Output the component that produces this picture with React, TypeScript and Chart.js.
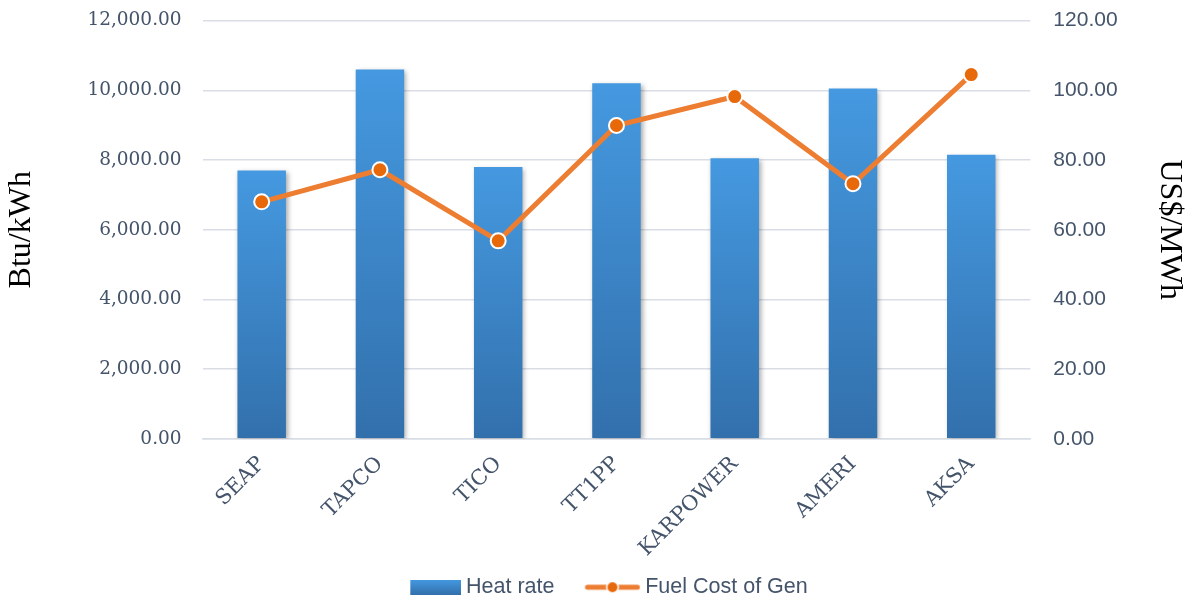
import React, { useEffect, useRef } from 'react';
import { Chart, registerables } from 'chart.js';

Chart.register(...registerables);

const categories = ['SEAP', 'TAPCO', 'TICO', 'TT1PP', 'KARPOWER', 'AMERI', 'AKSA'];
const heatRate = [7700, 10600, 7800, 10200, 8050, 10050, 8150];
const fuelCost = [68.0, 77.2, 56.8, 89.9, 98.2, 73.2, 104.5];
const seriesNames = ['Heat rate', 'Fuel Cost of Gen'];
const leftAxisTitle = 'Btu/kWh';
const rightAxisTitle = 'US$/MWh';

const BAR_TOP = '#4599E0';
const BAR_BOTTOM = '#3270AC';
const LINE = '#ED7D31';
const POINT = '#E8690A';
const TICK = '#44546A';
const GRID = '#D9DEE6';

const SW_W = 70; // legend box width
const SW_I = 82; // legend image width

const fmt = (v: number) =>
  Number(v).toLocaleString('en-US', { minimumFractionDigits: 2, maximumFractionDigits: 2 });

function barSwatch(): HTMLCanvasElement {
  const c = document.createElement('canvas');
  c.width = SW_I;
  c.height = 15;
  const x = c.getContext('2d')!;
  const g = x.createLinearGradient(0, 0, 0, 15);
  g.addColorStop(0, BAR_TOP);
  g.addColorStop(1, BAR_BOTTOM);
  x.fillStyle = g;
  x.fillRect(SW_I - 51, 0, 51, 15);
  return c;
}

function lineSwatch(): HTMLCanvasElement {
  const c = document.createElement('canvas');
  c.width = SW_I;
  c.height = 18;
  const x = c.getContext('2d')!;
  const l = SW_I - 56;
  x.strokeStyle = LINE;
  x.lineWidth = 5;
  x.lineCap = 'round';
  x.beginPath();
  x.moveTo(l + 3, 9);
  x.lineTo(SW_I - 3, 9);
  x.stroke();
  const cx = l + 28;
  x.beginPath();
  x.arc(cx, 9, 6.5, 0, Math.PI * 2);
  x.fillStyle = '#ffffff';
  x.fill();
  x.beginPath();
  x.arc(cx, 9, 5, 0, Math.PI * 2);
  x.fillStyle = POINT;
  x.fill();
  return c;
}

const shadowPlugin = {
  id: 'barShadow',
  beforeDatasetDraw(chart: any, args: any) {
    if (args.index === 0) {
      const ctx = chart.ctx;
      ctx.save();
      ctx.shadowColor = 'rgba(0,0,0,0.35)';
      ctx.shadowBlur = 5;
      ctx.shadowOffsetX = 2;
      ctx.shadowOffsetY = 2;
    }
  },
  afterDatasetDraw(chart: any, args: any) {
    if (args.index === 0) chart.ctx.restore();
  },
};

export default function App() {
  const ref = useRef<HTMLCanvasElement | null>(null);

  useEffect(() => {
    document.body.style.margin = '0';
    const canvas = ref.current!;
    const swatches = [barSwatch(), lineSwatch()];
    const chart = new Chart(canvas, {
      type: 'bar',
      data: {
        labels: categories,
        datasets: [
          {
            type: 'bar',
            label: seriesNames[0],
            data: heatRate,
            yAxisID: 'y',
            order: 2,
            barPercentage: 0.41,
            categoryPercentage: 1,
            backgroundColor: (ctx: any) => {
              const chart = ctx.chart;
              const y = chart.scales?.y;
              if (!chart.chartArea || !y || ctx.raw == null) return BAR_TOP;
              const top = y.getPixelForValue(ctx.raw);
              const bottom = y.getPixelForValue(0);
              const g = chart.ctx.createLinearGradient(0, top, 0, bottom);
              g.addColorStop(0, BAR_TOP);
              g.addColorStop(1, BAR_BOTTOM);
              return g;
            },
            borderWidth: 0,
          },
          {
            type: 'line',
            label: seriesNames[1],
            data: fuelCost,
            yAxisID: 'y1',
            order: 1,
            borderColor: LINE,
            borderWidth: 5,
            backgroundColor: POINT,
            pointBackgroundColor: POINT,
            pointBorderColor: '#ffffff',
            pointBorderWidth: 2,
            pointRadius: 7.5,
            tension: 0,
          },
        ],
      },
      options: {
        animation: false,
        responsive: true,
        maintainAspectRatio: false,
        layout: { padding: { top: 0, left: 0, right: 0, bottom: -10 } },
        plugins: {
          tooltip: { enabled: false },
          legend: {
            position: 'bottom',
            labels: {
              usePointStyle: true,
              pointStyleWidth: SW_W,
              padding: 10,
              color: TICK,
              font: { family: 'Liberation Sans', size: 21.5 },
              generateLabels: () =>
                seriesNames.map((name, i) => ({
                  text: name,
                  pointStyle: swatches[i] as any,
                  datasetIndex: i,
                  fillStyle: 'transparent',
                  strokeStyle: 'transparent',
                  lineWidth: 0,
                  hidden: false,
                  fontColor: TICK,
                })),
            },
          },
        },
        scales: {
          x: {
            grid: { display: false },
            border: { display: true, color: GRID, width: 1.5 },
            ticks: {
              color: TICK,
              minRotation: 45,
              maxRotation: 45,
              padding: 5,
              font: { family: 'DejaVu Serif', size: 21 },
            },
          },
          y: {
            position: 'left',
            min: 0,
            max: 12000,
            grid: {
              color: GRID,
              lineWidth: 1.5,
              drawTicks: true,
              tickLength: 13,
              tickColor: 'transparent',
            },
            border: { display: false },
            ticks: {
              stepSize: 2000,
              padding: 8,
              color: TICK,
              font: { family: 'DejaVu Serif', size: 18.5 },
              callback: (v: any) => fmt(v),
            },
            title: {
              display: true,
              text: leftAxisTitle,
              color: '#000000',
              padding: { top: 2, bottom: 39 },
              font: { family: 'Liberation Serif', size: 32 },
            },
          },
          y1: {
            position: 'right',
            min: 0,
            max: 120,
            grid: {
              display: true,
              color: 'transparent',
              drawTicks: true,
              tickLength: 15,
              tickColor: 'transparent',
            },
            border: { display: false },
            ticks: {
              stepSize: 20,
              padding: 8,
              color: TICK,
              font: { family: 'Liberation Sans', size: 21 },
              callback: (v: any) => fmt(v),
            },
            title: {
              display: true,
              text: rightAxisTitle,
              color: '#000000',
              padding: { top: 4, bottom: 25 },
              font: { family: 'Liberation Serif', size: 32 },
            },
          },
        },
      },
      plugins: [shadowPlugin],
    } as any);
    return () => chart.destroy();
  }, []);

  return (
    <div style={{ width: 1193, height: 598, position: 'relative' }}>
      <canvas ref={ref} />
    </div>
  );
}
